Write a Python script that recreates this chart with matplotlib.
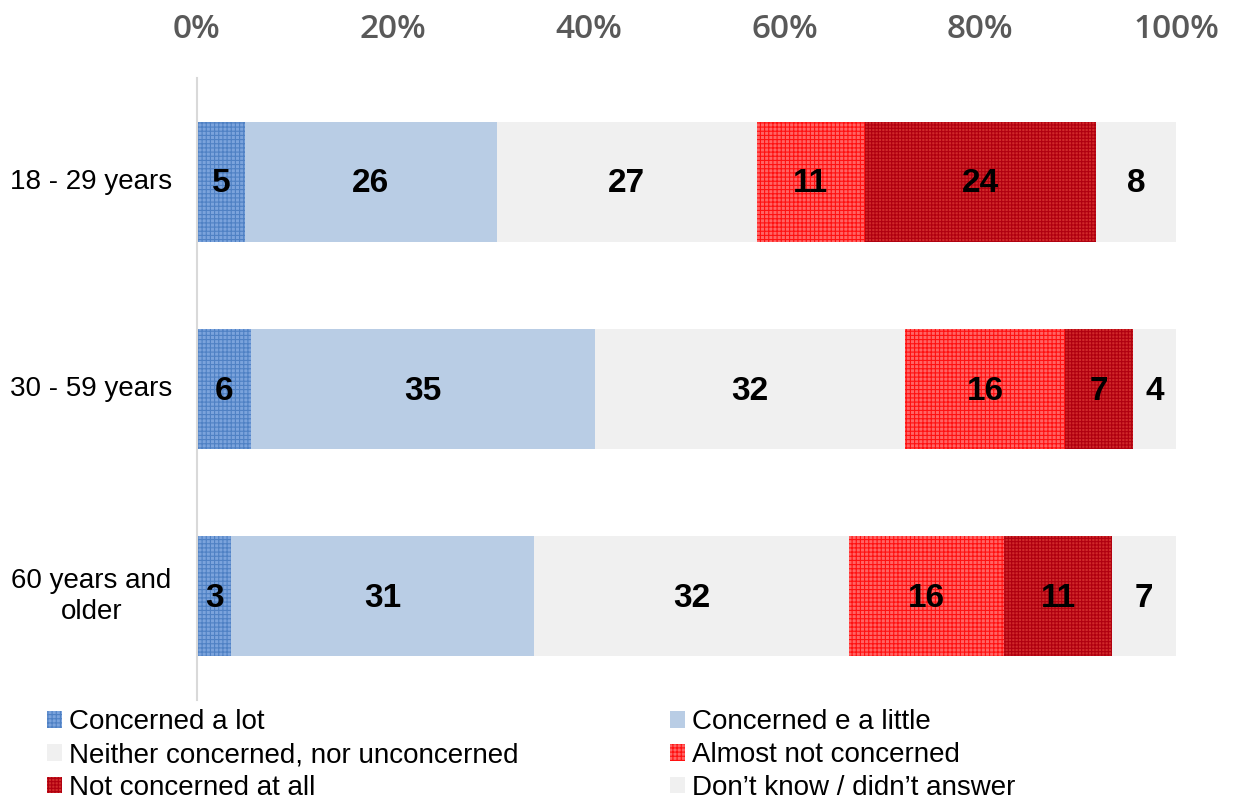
import numpy as np
import matplotlib.pyplot as plt

groups = ["18 - 29 years", "30 - 59 years", "60 years and\nolder"]
series = [
    "Concerned a lot",
    "Concerned e a little",
    "Neither concerned, nor unconcerned",
    "Almost not concerned",
    "Not concerned at all",
    "Don\u2019t know / didn\u2019t answer",
]
# printed labels
labels = [
    [5, 26, 27, 11, 24, 8],
    [6, 35, 32, 16, 7, 4],
    [3, 31, 32, 16, 11, 7],
]
# bar widths (%)
shares = np.array([
    [4.9, 25.7, 26.6, 11.0, 23.6, 8.2],
    [5.5, 35.2, 31.6, 16.4, 6.9, 4.4],
    [3.5, 30.9, 32.2, 15.8, 11.1, 6.5],
])

face_colors = ["#7ba3dc", "#b9cde5", "#f0f0f0", "#ff6464", "#d02a2a", "#f0f0f0"]
hatch_colors = ["#4f81c4", "#b9cde5", "#f0f0f0", "#ff1010", "#b00010", "#f0f0f0"]
hatches = ["++++", None, None, "++++", "+++++", None]

plt.rcParams["font.family"] = ["Liberation Sans", "DejaVu Sans"]
plt.rcParams["hatch.linewidth"] = 0.8

fig = plt.figure(figsize=(12.36, 8), dpi=100)
ax = fig.add_axes([197 / 1236, 1 - 700 / 800, (1176 - 197) / 1236, 622 / 800])

y = np.arange(len(groups))
left = np.zeros(len(groups))
handles = []
for j, name in enumerate(series):
    b = ax.barh(y, shares[:, j], left=left, height=0.58, color=face_colors[j],
                edgecolor=hatch_colors[j], linewidth=0, hatch=hatches[j], label=name)
    handles.append(b)
    for i in range(len(groups)):
        ax.text(left[i] + shares[i, j] / 2, y[i] + 0.01, str(labels[i][j]),
                ha="center", va="center", fontsize=24, fontweight="bold", color="black")
    left += shares[:, j]

ax.set_xlim(0, 100)
ax.set_ylim(2.5, -0.5)
ax.set_yticks([])
for i, g in enumerate(groups):
    ax.text(-0.108, y[i], g, transform=ax.get_yaxis_transform(), ha="center",
            va="center", fontsize=20, linespacing=1.25)
ax.xaxis.tick_top()
ax.set_xticks(np.arange(0, 101, 20))
ax.set_xticklabels([f"{v}%" for v in range(0, 101, 20)], fontsize=24,
                   color="#595959", family=["Open Sans", "DejaVu Sans"],
                   fontweight="semibold")
ax.tick_params(axis="x", length=0, pad=23)
for s in ["top", "right", "bottom"]:
    ax.spines[s].set_visible(False)
ax.spines["left"].set_color("#d9d9d9")
ax.spines["left"].set_linewidth(1.5)

leg_kw = dict(loc="center left", frameon=False, fontsize=20, handlelength=0.55,
              handleheight=0.55, handletextpad=0.25, labelspacing=0.25,
              borderaxespad=0, borderpad=0)
fig.legend([handles[k] for k in (0, 2, 4)], [series[k] for k in (0, 2, 4)],
           bbox_to_anchor=(47 / 1236, 1 - 755 / 800), **leg_kw)
fig.legend([handles[k] for k in (1, 3, 5)], [series[k] for k in (1, 3, 5)],
           bbox_to_anchor=(670 / 1236, 1 - 755 / 800), **leg_kw)

fig.savefig("out.png", dpi=100)
